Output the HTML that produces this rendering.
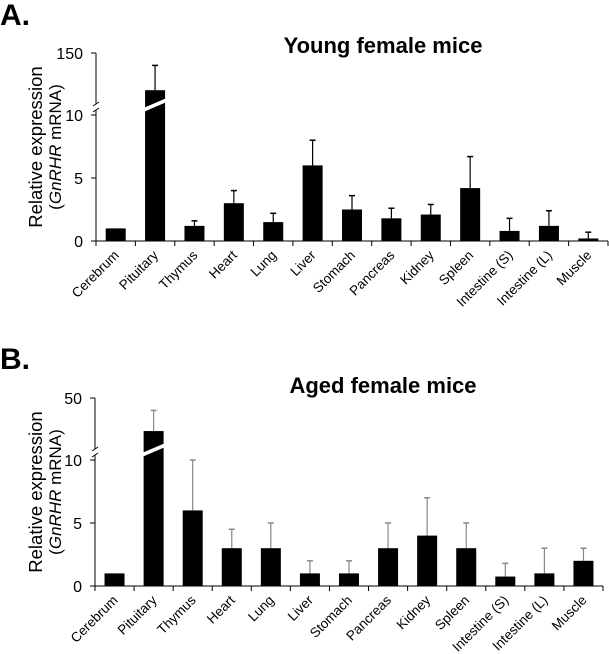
<!DOCTYPE html>
<html><head><meta charset="utf-8"><style>
html,body{margin:0;padding:0;background:#fff;width:609px;height:654px;overflow:hidden}
svg{display:block;font-family:"Liberation Sans",Arial,sans-serif}
</style></head><body>
<svg id="fig" width="609" height="654">
<text x="0" y="25" font-size="30" font-weight="bold">A.</text>
<text x="0" y="369" font-size="30" font-weight="bold">B.</text>
</svg>
<script>
const categories=["Cerebrum","Pituitary","Thymus","Heart","Lung","Liver","Stomach","Pancreas","Kidney","Spleen","Intestine (S)","Intestine (L)","Muscle"];
const youngValues=[1,120,1.2,3,1.5,6,2.5,1.8,2.1,4.2,0.8,1.2,0.2];
const youngErrors=[1,140,1.6,4,2.2,8,3.6,2.6,2.9,6.7,1.8,2.4,0.7];
const agedValues=[1,34,6,3,3,1,1,3,4,3,0.75,1,2];
const agedErrors=[1,44,10,4.5,5,2,2,5,7,5,1.8,3,3];
const youngTicks=["0","5","10","150"];
const agedTicks=["0","5","10","50"];
const NS="http://www.w3.org/2000/svg";
const svg=document.getElementById('fig');
function mk(tag,attrs,parent){const e=document.createElementNS(NS,tag);for(const k in attrs)e.setAttribute(k,attrs[k]);(parent||svg).appendChild(e);return e;}
function panel(cfg){
  const g=mk('g',{});
  
  
  function y(v){
    if(v<=10) return cfg.y0-(cfg.y0-cfg.y10)*v/10;
    return cfg.y10-(cfg.y10-cfg.yTop)*(v-cfg.uLo)/(cfg.uHi-cfg.uLo);
  }
  const n=categories.length;
  const step=(cfg.xEnd-cfg.x0)/n;
  function xc(i){return cfg.x0+step*(i+0.5);}
  const title=mk('text',{x:cfg.titleX,y:cfg.titleY,'font-size':22,'font-weight':'bold','text-anchor':'middle'},g);
  title.textContent=cfg.title;
  
  
  const cy=(cfg.yTop+cfg.y0)/2;
  const t1=mk('text',{x:0,y:0,'font-size':18.5,'text-anchor':'middle',transform:`translate(42,${cy}) rotate(-90)`},g);
  t1.textContent='Relative expression';
  
  
  const t2=mk('text',{x:0,y:0,'font-size':17,'text-anchor':'middle',transform:`translate(61,${cy}) rotate(-90)`},g);
  t2.innerHTML='(<tspan font-style="italic">GnRHR</tspan> mRNA)';
  
  
  const brk=cfg.y10-8;
  mk('line',{x1:cfg.x0,y1:cfg.yTop,x2:cfg.x0,y2:brk-3,stroke:'#000','stroke-width':1},g);
  mk('line',{x1:cfg.x0,y1:brk+3,x2:cfg.x0,y2:cfg.y0,stroke:'#000','stroke-width':1},g);
  mk('line',{x1:cfg.x0-3,y1:brk-1,x2:cfg.x0+3,y2:brk-5,stroke:'#000','stroke-width':1},g);
  mk('line',{x1:cfg.x0-3,y1:brk+5,x2:cfg.x0+3,y2:brk+1,stroke:'#000','stroke-width':1},g);
  const tv=[0,5,10,cfg.uHi];
  tv.forEach((v,i)=>{
    mk('line',{x1:cfg.x0-5,y1:y(v),x2:cfg.x0,y2:y(v),stroke:'#000'},g);
    const t=mk('text',{x:cfg.x0-13,y:y(v)+6,'font-size':16,'text-anchor':'end'},g);
    t.textContent=cfg.ticks[i];
    
    
  });
  mk('line',{x1:cfg.x0,y1:cfg.y0,x2:cfg.xEnd,y2:cfg.y0,stroke:'#000'},g);
  for(let i=0;i<=n;i++){mk('line',{x1:cfg.x0+step*i,y1:cfg.y0,x2:cfg.x0+step*i,y2:cfg.y0+5,stroke:'#000'},g);}
  categories.forEach((c,i)=>{
    const x=xc(i),top=y(cfg.vals[i]),et=y(cfg.errs[i]);
    if(cfg.errs[i]>cfg.vals[i]){
      const el=mk('line',{x1:x,y1:et,x2:x,y2:top,stroke:cfg.errColor,'stroke-width':1.2},g);
      
      
      mk('line',{x1:x-3,y1:et,x2:x+3,y2:et,stroke:cfg.errColor,'stroke-width':1.5},g);
    }
    const r=mk('rect',{x:x-10,y:top,width:20,height:cfg.y0-top,fill:'#000'},g);
    
    
    if(cfg.vals[i]>10){
      mk('polygon',{points:`${x-14},${brk+2} ${x+14},${brk-10} ${x+14},${brk-6} ${x-14},${brk+6}`,fill:'#fff'},g);
    }
    const lt=mk('text',{x:0,y:0,'font-size':13.5,'text-anchor':'end',transform:`translate(${x+4},${cfg.y0+15}) rotate(-45)`},g);
    lt.textContent=c;
    
    
  });
}
panel({name:'young-chart',title:'Young female mice',titleX:383,titleY:53,x0:96,xEnd:608,y0:241,y10:115,yTop:53,uLo:100,uHi:150,ticks:youngTicks,vals:youngValues,errs:youngErrors,errColor:'#000'});
panel({name:'aged-chart',title:'Aged female mice',titleX:383,titleY:393,x0:95,xEnd:603,y0:586,y10:460,yTop:398,uLo:20,uHi:50,ticks:agedTicks,vals:agedValues,errs:agedErrors,errColor:'#888'});
</script>
</body></html>
